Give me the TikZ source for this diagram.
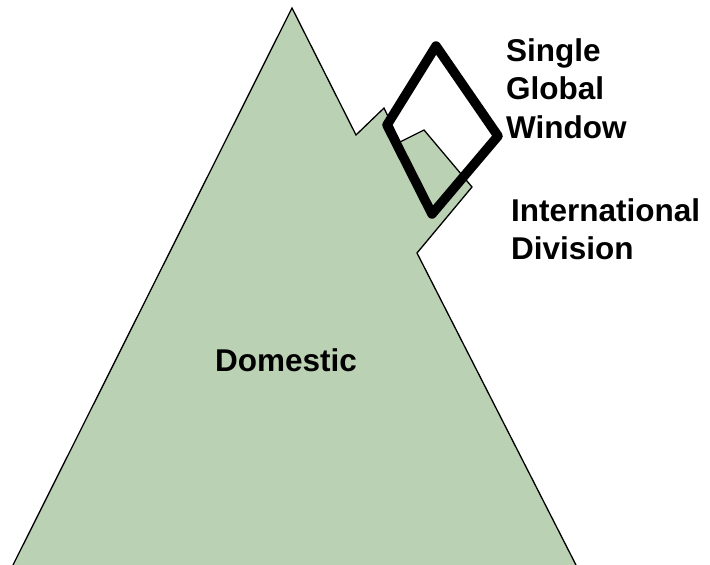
\documentclass[tikz,border=0pt]{standalone}
\usepackage{fontspec}
\setmainfont{Liberation Sans}
\definecolor{mountain}{RGB}{187,209,180}
\begin{document}
\begin{tikzpicture}[x=1pt,y=-1pt,
  label/.style={font=\fontsize{31.5}{38.5}\selectfont\bfseries, inner sep=0pt, align=left},
  mount/.style={fill=mountain, draw=black, line width=1.3pt, line join=miter},
  win/.style={draw=black, line width=9.5pt, line join=round}]
\useasboundingbox (0,0) rectangle (710,565);
\coordinate (bl) at (12,567);
\coordinate (pk) at (292,8);
\coordinate (n1) at (356,135);
\coordinate (p2) at (384,108);
\coordinate (n2) at (400,142);
\coordinate (p3) at (424,130);
\coordinate (sh) at (472,187);
\coordinate (n3) at (417,253);
\coordinate (br) at (577,567);
\draw[mount] (bl) -- (pk) -- (n1) -- (p2) -- (n2) -- (p3) -- (sh) -- (n3) -- (br) -- cycle;
\coordinate (wt) at (436,46);
\coordinate (wr) at (498,136);
\coordinate (wb) at (432,214);
\coordinate (wl) at (387,125);
\draw[win] (wt) -- (wr) -- (wb) -- (wl) -- cycle;
\node[label, anchor=north west] (sgw) at (506,38) {Single\\Global\\Window};
\node[label, anchor=north west] (intl) at (511,198) {International\\Division};
\node[label, anchor=base west] (dom) at (215,371) {Domestic};
\end{tikzpicture}
\end{document}
